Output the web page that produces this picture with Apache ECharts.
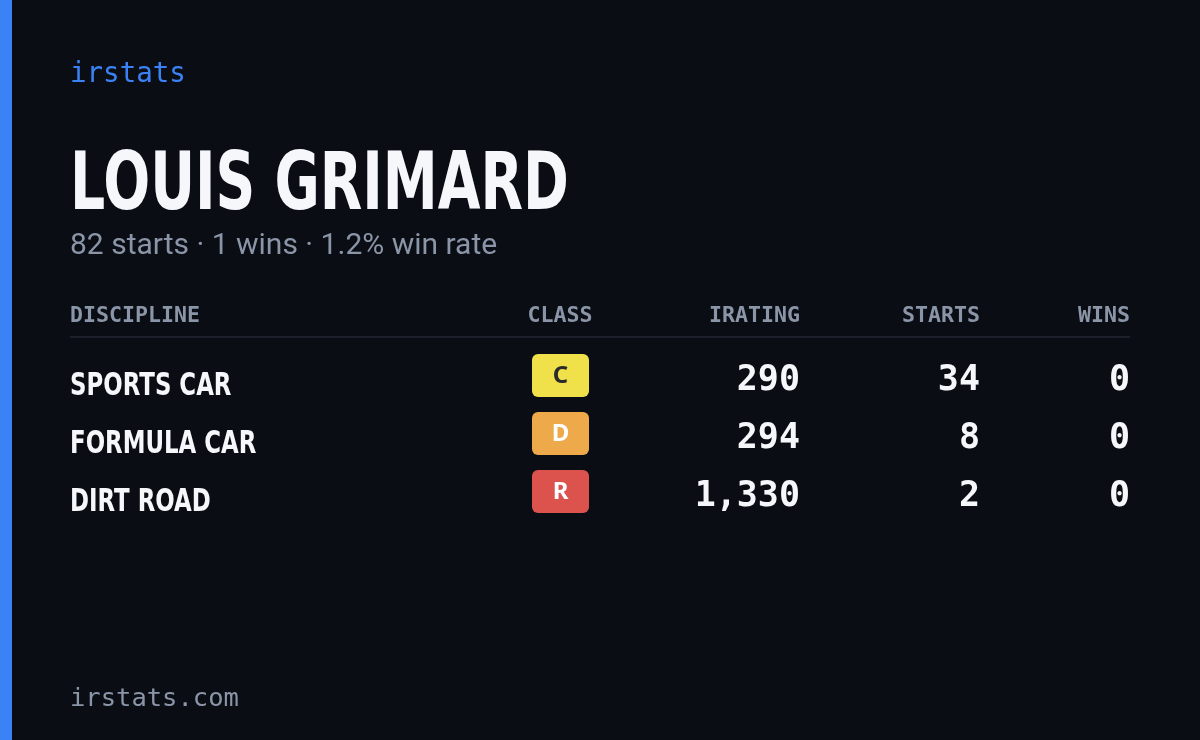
<!DOCTYPE html>
<html><head><meta charset="utf-8">
<script src="https://cdn.jsdelivr.net/npm/echarts@6/dist/echarts.min.js"></script>
<style>html,body{margin:0;padding:0;background:#0a0d14}#c{width:1200px;height:740px}</style>
</head><body><div id="c"></div>
<script>
const brand = "irstats";
const driverName = "LOUIS GRIMARD";
const subtitle = "82 starts · 1 wins · 1.2% win rate";
const headers = ["DISCIPLINE", "CLASS", "IRATING", "STARTS", "WINS"];
const disciplines = ["SPORTS CAR", "FORMULA CAR", "DIRT ROAD"];
const classes = ["C", "D", "R"];
const iratings = [290, 294, 1330];
const starts = [34, 8, 2];
const wins = [0, 0, 0];
const footer = "irstats.com";

const classColors = {C: "#f0e04a", D: "#eeaa4a", R: "#dc534e"};
const classText = {C: "#2a2a2a", D: "#ffffff", R: "#ffffff"};
const mono = "'DejaVu Sans Mono', monospace";
const cond = "'DejaVu Sans', sans-serif";
const grey = "#8b95a8";

const g = [];
g.push({type:'rect', shape:{x:0,y:0,width:12,height:740}, style:{fill:'#3b82f6'}});
g.push({type:'text', x:70, y:75, style:{text:brand, font:"27.5px "+mono, fill:'#3b82f6', textVerticalAlign:'middle'}});
g.push({type:'text', x:70, y:188, scaleX:0.69, style:{text:driverName, font:"bold 80px "+cond, fill:'#f5f7fb', textVerticalAlign:'middle'}});
g.push({type:'text', x:70, y:246, style:{text:subtitle, font:"30px Roboto, sans-serif", fill:grey, textVerticalAlign:'middle'}});
const hx = [70, 560, 800, 980, 1130];
const ha = ['left','center','right','right','right'];
headers.forEach((h,i)=>g.push({type:'text', x:hx[i], y:316, style:{text:h, font:"bold 21.6px "+mono, fill:grey, textAlign:ha[i], textVerticalAlign:'middle'}}));
g.push({type:'rect', shape:{x:70,y:336,width:1060,height:2}, style:{fill:'#1c212c'}});
disciplines.forEach((d,i)=>{
  const y = 378 + i*58;
  g.push({type:'text', x:70, y:y+9, scaleX:0.715, style:{text:d, font:"bold 32px "+cond, fill:'#f5f7fb', textVerticalAlign:'middle'}});
  const c = classes[i];
  g.push({type:'rect', shape:{x:532,y:y-24,width:57,height:43,r:6}, style:{fill:classColors[c]}});
  g.push({type:'text', x:560.5, y:y-2, style:{text:c, font:"bold 24px 'Noto Sans', sans-serif", fill:classText[c], textAlign:'center', textVerticalAlign:'middle'}});
  g.push({type:'text', x:800, y:y+3, style:{text:iratings[i].toLocaleString('en-US'), font:"bold 35px "+mono, fill:'#f5f7fb', textAlign:'right', textVerticalAlign:'middle'}});
  g.push({type:'text', x:980, y:y+3, style:{text:String(starts[i]), font:"bold 35px "+mono, fill:'#f5f7fb', textAlign:'right', textVerticalAlign:'middle'}});
  g.push({type:'text', x:1130, y:y+3, style:{text:String(wins[i]), font:"bold 35px "+mono, fill:'#f5f7fb', textAlign:'right', textVerticalAlign:'middle'}});
});
g.push({type:'text', x:70, y:699, style:{text:footer, font:"25.5px "+mono, fill:grey, textVerticalAlign:'middle'}});

const chart = echarts.init(document.getElementById('c'));
chart.setOption({backgroundColor:'#0a0d14', animation:false, graphic:g});
</script></body></html>
